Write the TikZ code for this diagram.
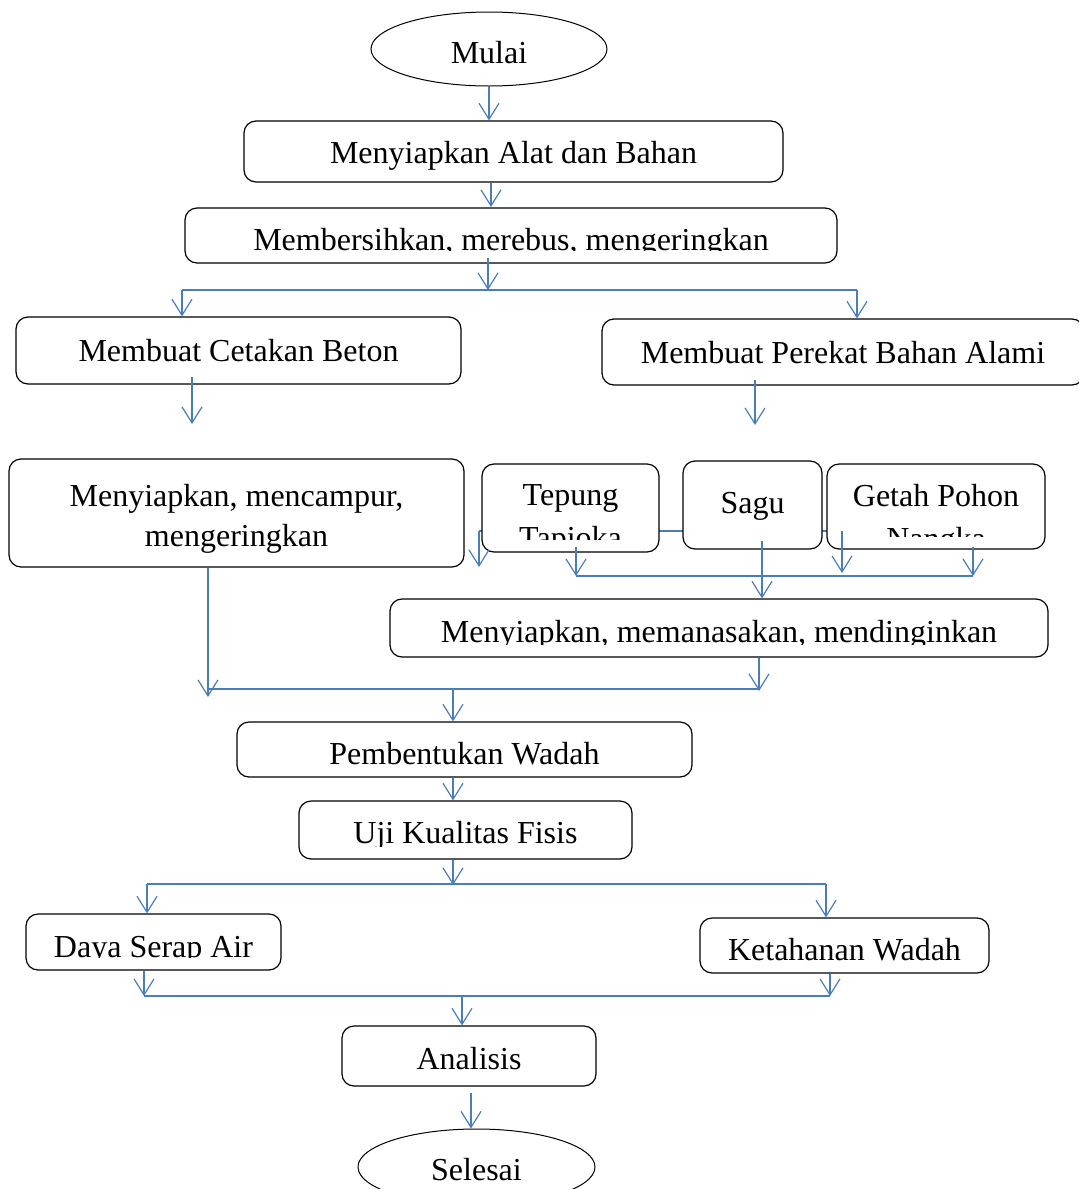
\documentclass[tikz,border=0pt]{standalone}
\usepackage{fontspec}
\setmainfont{Liberation Serif}
\usetikzlibrary{arrows.meta,shapes.geometric}

\definecolor{flowblue}{RGB}{74,126,187}
\newcommand\flowfont{\fontsize{16}{19}\selectfont}

\tikzset{
  box/.style={draw, rounded corners=6pt, fill=white, inner sep=0pt, line width=0.6pt},
  oval/.style={draw, ellipse, fill=white, inner sep=0pt, line width=0.5pt},
  txt/.style 2 args={path picture={
      \clip ([yshift=6.5pt]path picture bounding box.south west) rectangle (path picture bounding box.north east);
      \pgftext[base, at={\pgfpointadd{\pgfpointanchor{path picture bounding box}{center}}{\pgfpoint{0pt}{#1}}}]{\flowfont #2};}},
  txttwo/.style n args={4}{path picture={
      \clip ([yshift=6.5pt]path picture bounding box.south west) rectangle (path picture bounding box.north east);
      \pgftext[base, at={\pgfpointadd{\pgfpointanchor{path picture bounding box}{center}}{\pgfpoint{0pt}{#1}}}]{\flowfont #3};
      \pgftext[base, at={\pgfpointadd{\pgfpointanchor{path picture bounding box}{center}}{\pgfpoint{0pt}{#1-#2}}}]{\flowfont #4};}},
  arr/.style={draw=flowblue, line width=1pt, -{Straight Barb[length=8pt, width=10pt, line width=0.6pt]}},
  busline/.style={draw=flowblue, line width=1pt}
}

\begin{document}
\begin{tikzpicture}[x=0.5pt, y=-0.5pt]
  \useasboundingbox (0,0) rectangle (1079,1189);
  \clip (0,0) rectangle (1079,1189);

  % line behind the materials
  \coordinate (h1) at (479,531);
  \coordinate (h2) at (842,531);
  \coordinate (h1e) at (479,567);
  \coordinate (h2e) at (842,573);
  \draw[busline] (h1) -- (h2);

  \node (mulai) at (489,49) [oval, minimum width=118pt, minimum height=37pt, txt={-7pt}{Mulai}] {};
  \node (alat) at (513.5,151.5) [box, minimum width=269.5pt, minimum height=30.5pt, txt={-5.75pt}{Menyiapkan Alat dan Bahan}] {};
  \node (bersih) at (511,235.5) [box, minimum width=326pt, minimum height=27.5pt, txt={-7.25pt}{Membersihkan, merebus, mengeringkan}] {};
  \node (cetak) at (238.5,350.5) [box, minimum width=222.5pt, minimum height=33.5pt, txt={-5.25pt}{Membuat Cetakan Beton}] {};
  \node (perekat) at (843,352) [box, minimum width=241pt, minimum height=33pt, txt={-5.5pt}{Membuat Perekat Bahan Alami}] {};
  \node (campur) at (236.5,513) [box, minimum width=227.5pt, minimum height=54pt, txttwo={3.5pt}{20pt}{Menyiapkan, mencampur,}{mengeringkan}] {};
  \node (tapioka) at (570.5,508) [box, minimum width=88.5pt, minimum height=44pt, txttwo={1.5pt}{21.5pt}{Tepung}{Tapioka}] {};
  \node (sagu) at (752.5,505) [box, minimum width=69.5pt, minimum height=44pt, txt={-4pt}{Sagu}] {};
  \node (nangka) at (936,506.5) [box, minimum width=109pt, minimum height=42.5pt, txttwo={0.25pt}{21.5pt}{Getah Pohon}{Nangka}] {};
  \node (panas) at (719,628) [box, minimum width=329pt, minimum height=29pt, txt={-7pt}{Menyiapkan, memanasakan, mendinginkan}] {};
  \node (wadah) at (464.5,749.5) [box, minimum width=227.5pt, minimum height=27.5pt, txt={-7.25pt}{Pembentukan Wadah}] {};
  \node (uji) at (465.5,830) [box, minimum width=166.5pt, minimum height=29pt, txt={-6.5pt}{Uji Kualitas Fisis}] {};
  \node (serap) at (153.5,942) [box, minimum width=127.5pt, minimum height=28pt, txt={-7.5pt}{Daya Serap Air}] {};
  \node (tahan) at (844.5,945.5) [box, minimum width=144.5pt, minimum height=27.5pt, txt={-7.25pt}{Ketahanan Wadah}] {};
  \node (analisis) at (469,1056) [box, minimum width=127pt, minimum height=30pt, txt={-6.5pt}{Analisis}] {};
  \node (selesai) at (476.5,1167) [oval, minimum width=118.5pt, minimum height=38pt, txt={-6.5pt}{Selesai}] {};

  % top part
  \draw[arr] (mulai.south) -- (mulai.south |- alat.north);
  \coordinate (a1) at (491,207);
  \draw[arr] (a1 |- alat.south) -- (a1);
  \coordinate (b0) at (488,258);
  \coordinate (b1) at (488,290);
  \draw[arr] (b0) -- (b1);
  \coordinate (bl) at (182,290);
  \coordinate (br) at (857,290);
  \draw[busline] (bl) -- (br);
  \draw[arr] (bl) -- (bl |- cetak.north);
  \draw[arr] (br) -- (br |- perekat.north);
  \coordinate (c0) at (192,377);
  \coordinate (c1) at (192,424);
  \draw[arr] (c0) -- (c1);
  \coordinate (p0) at (755,380);
  \coordinate (p1) at (755,425);
  \draw[arr] (p0) -- (p1);

  % materials
  \draw[arr] (h1) -- (h1e);
  \draw[arr] (h2) -- (h2e);
  \coordinate (t0) at (576,547);
  \coordinate (t1) at (576,576);
  \coordinate (g0) at (973,547);
  \coordinate (g1) at (973,576);
  \draw[busline] (t1) -- (g1);
  \draw[arr] (t0) -- (t1);
  \draw[arr] (g0) -- (g1);
  \coordinate (s0) at (762,541);
  \draw[arr] (s0) -- (s0 |- panas.north);

  % joining
  \coordinate (j1) at (208,697);
  \coordinate (jl) at (208,689);
  \coordinate (jr) at (759,691);
  \draw[arr] (j1 |- campur.south) -- (j1);
  \draw[arr] (jr |- panas.south) -- (jr);
  \draw[busline] (jl) -- (759,689);
  \coordinate (w1) at (453,689);
  \draw[arr] (w1) -- (w1 |- wadah.north);
  \draw[arr] (w1 |- wadah.south) -- (w1 |- uji.north);

  % tests
  \coordinate (u1) at (453,885);
  \draw[arr] (u1 |- uji.south) -- (u1);
  \coordinate (kl) at (147,884);
  \coordinate (kr) at (826,884);
  \draw[busline] (kl) -- (kr);
  \draw[arr] (kl) -- (kl |- serap.north);
  \draw[arr] (kr) -- (kr |- tahan.north);
  \coordinate (al) at (144,996);
  \coordinate (ar) at (830,996);
  \draw[arr] (al |- serap.south) -- (al);
  \draw[arr] (ar |- tahan.south) -- (ar);
  \draw[busline] (al) -- (ar);
  \coordinate (n1) at (462,996);
  \draw[arr] (n1) -- (n1 |- analisis.north);
  \coordinate (e0) at (471,1093);
  \draw[arr] (e0) -- (e0 |- selesai.north);
\end{tikzpicture}
\end{document}
